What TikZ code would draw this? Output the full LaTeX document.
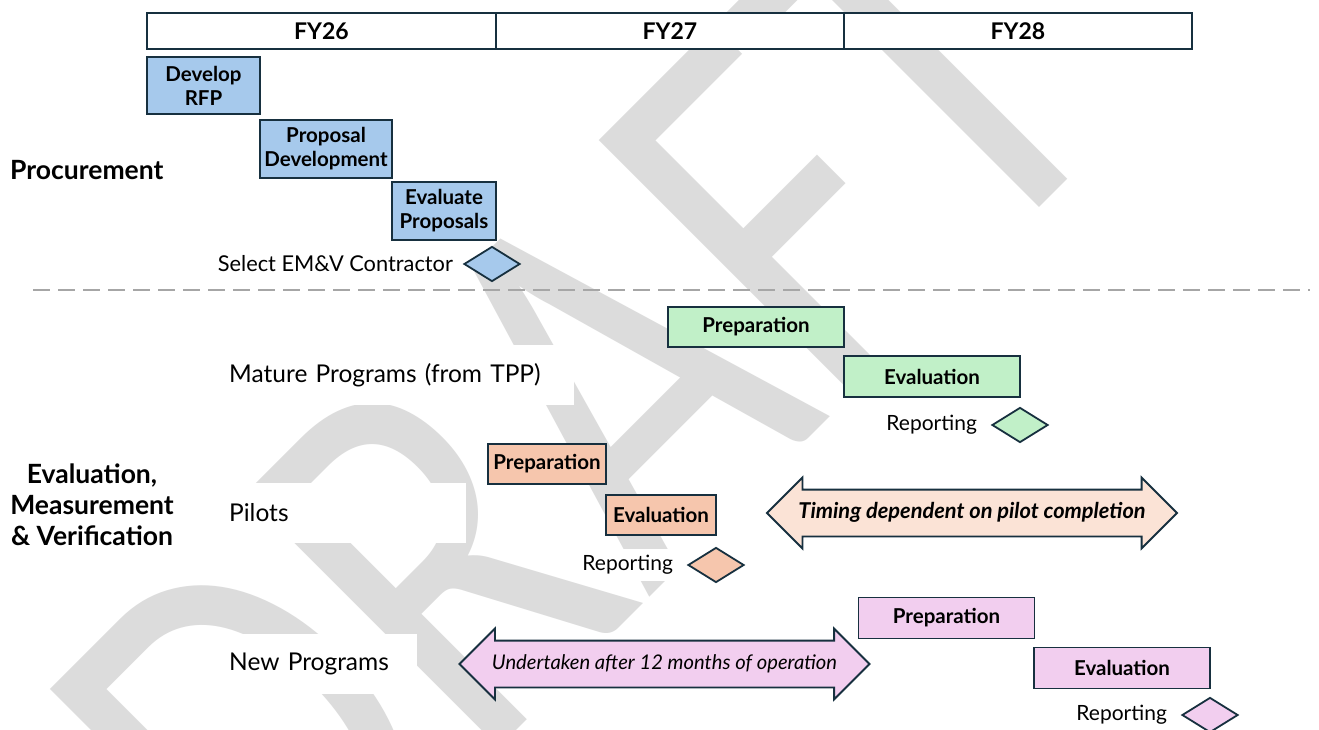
\documentclass[tikz,border=0pt]{standalone}
\usepackage{fontspec}
\setmainfont{Lato}
\newfontfamily\draftfont{Carlito}
\usetikzlibrary{positioning,shapes.geometric,shapes.arrows}
\definecolor{taskline}{HTML}{17303F}
\definecolor{procfill}{HTML}{A6C9EC}
\definecolor{maturefill}{HTML}{C1F0C8}
\definecolor{pilotfill}{HTML}{F6C6AD}
\definecolor{pilotlight}{HTML}{FBE3D6}
\definecolor{newfill}{HTML}{F2CEEF}
\definecolor{sepgray}{HTML}{A6A6A6}
\definecolor{draftgray}{HTML}{DCDCDC}
\tikzset{
  taskbox/.style={
    draw=taskline,
    line width=1.8pt,
    align=center,
    inner sep=0pt,
    font=\fontsize{20.5}{24}\selectfont\bfseries,
  },
  procbox/.style={taskbox, fill=procfill},
  maturebox/.style={taskbox, fill=maturefill, minimum width=176pt, minimum height=40pt},
  pilotbox/.style={taskbox, fill=pilotfill, minimum height=40pt},
  newbox/.style={taskbox, fill=newfill, minimum width=176pt, minimum height=41pt},
  yearcell/.style={
    draw=taskline,
    line width=1.8pt,
    fill=white,
    minimum width=348.3pt,
    minimum height=36pt,
    inner sep=0pt,
    font=\fontsize{23}{26}\selectfont\bfseries,
  },
  milestone/.style={diamond, draw=taskline, line width=1.8pt, minimum width=56pt, minimum height=35pt, inner sep=0pt},
  mslabel/.style={fill=white, inner xsep=8pt, inner ysep=6pt, font=\fontsize{21}{24}\selectfont},
  rowlabel/.style={fill=white, anchor=west, inner xsep=10pt, inner ysep=0pt, minimum height=60pt, align=left,
    font=\fontsize{24.5}{28}\selectfont},
  grouplabel/.style={fill=white, inner xsep=10pt, inner ysep=0pt, font=\fontsize{26.5}{31}\selectfont\bfseries},
  spanarrow/.style={
    double arrow,
    draw=taskline,
    line width=1.8pt,
    double arrow head extend=12pt,
    minimum height=410pt,
    inner xsep=0pt,
    inner ysep=13pt,
    text height=15pt,
    text depth=4pt,
  },
  sepline/.style={draw=sepgray, line width=2.4pt, dash pattern=on 17pt off 8pt},
  draftmark/.style={text=draftgray, font=\draftfont\fontsize{559}{559}\selectfont, inner sep=0pt,
    anchor=base west, rotate=45, xscale=0.8},
}

\begin{document}
\begin{tikzpicture}[x=1pt, y=-1pt]
  \path[use as bounding box, fill=white] (0,0) rectangle (1319,730);

  % watermark behind everything
  \node[draftmark] (draft) at (282,965) {DRAFT};

  % fiscal years
  \node[yearcell] (fy26) at (321.5,31) {FY26};
  \node[yearcell] (fy27) at (670,31) {FY27};
  \node[yearcell] (fy28) at (1018,31) {FY28};

  % procurement
  \node[grouplabel, anchor=west, text width=167pt, align=left, minimum height=60pt] (proclbl) at (0,170) {Procurement};
  \node[procbox, minimum width=113pt, minimum height=57pt] (rfp) at (203.5,85.5) {Develop\\RFP};
  \node[procbox, minimum width=132pt, minimum height=58pt] (propdev) at (326,149) {Proposal\\Development};
  \node[procbox, minimum width=104pt, minimum height=58pt] (evalprop) at (444,211) {Evaluate\\Proposals};
  \node[milestone, fill=procfill] (selms) at (492,264) {};
  \node[mslabel, left=2pt of selms, font=\fontsize{21.8}{24}\selectfont] (sellbl) {Select EM\&V Contractor};

  \draw[sepline] (33,290) -- (1310,290);

  % evaluation, measurement and verification
  \node[grouplabel, align=center, minimum width=184pt, minimum height=128pt] (emvlbl) at (92,505)
    {Evaluation,\\Measurement\\\& Verification};

  \node[rowlabel, text width=335pt] (maturelbl) at (219,375) {Mature Programs (from TPP)};
  \node[maturebox] (matprep) at (756,327) {Preparation};
  \node[maturebox, minimum height=41pt] (mateval) at (932,376.5) {Evaluation};
  \node[milestone, fill=maturefill] (matms) at (1020,425) {};
  \node[mslabel, left=6pt of matms] (matrep) {Reporting};

  \node[rowlabel, text width=227pt] (pilotlbl) at (219,513) {Pilots};
  \node[pilotbox, minimum width=118pt] (pilprep) at (547,464) {Preparation};
  \node[pilotbox, minimum width=110pt] (pileval) at (661,515) {Evaluation};
  \node[milestone, fill=pilotfill] (pilms) at (716,565) {};
  \node[mslabel, left=6pt of pilms] (pilrep) {Reporting};
  \node[spanarrow, fill=pilotlight, font=\fontsize{21.8}{24}\selectfont\bfseries\itshape] (pilspan) at (972,513)
    {Timing dependent on pilot completion};

  \node[rowlabel, text width=178pt] (newlbl) at (219,664) {New Programs};
  \node[spanarrow, fill=newfill, font=\fontsize{20.2}{24}\selectfont\itshape] (newspan) at (664.5,664)
    {Undertaken after 12 months of operation};
  \node[newbox] (newprep) at (946.5,618) {Preparation};
  \node[newbox] (neweval) at (1122,668) {Evaluation};
  \node[milestone, fill=newfill] (newms) at (1210,715) {};
  \node[mslabel, left=6pt of newms] (newrep) {Reporting};
\end{tikzpicture}
\end{document}
